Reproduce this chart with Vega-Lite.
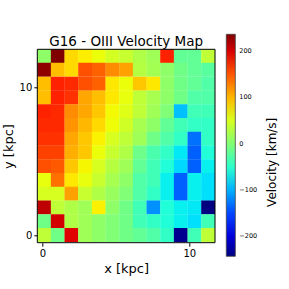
{
 "$schema": "https://vega.github.io/schema/vega-lite/v6.json",
 "width": 177.7, "height": 193.4,
 "autosize": "none",
 "padding": {"left": 37.3, "top": 49.3, "right": 74, "bottom": 46.3},
 "background": "white",
 "config": {"font": "DejaVu Sans", "view": {"stroke": null}},
 "title": {"text": "G16 - OIII Velocity Map", "fontSize": 13.5, "fontWeight": "normal", "anchor": "middle", "frame": "group", "offset": -14, "color": "black"},
 "layer": [
 {
 "data": {"values": [
{"x":0.12,"y":12.09,"v":8},{"x":1.05,"y":12.09,"v":236},{"x":1.98,"y":12.09,"v":83},{"x":2.91,"y":12.09,"v":72},{"x":3.84,"y":12.09,"v":62},{"x":4.77,"y":12.09,"v":48},{"x":5.7,"y":12.09,"v":41},{"x":6.63,"y":12.09,"v":27},{"x":7.56,"y":12.09,"v":18},{"x":8.49,"y":12.09,"v":176},{"x":9.42,"y":12.09,"v":-19},{"x":10.35,"y":12.09,"v":-19},{"x":11.28,"y":12.09,"v":36},
{"x":0.12,"y":11.16,"v":230},{"x":1.05,"y":11.16,"v":96},{"x":1.98,"y":11.16,"v":83},{"x":2.91,"y":11.16,"v":153},{"x":3.84,"y":11.16,"v":144},{"x":4.77,"y":11.16,"v":122},{"x":5.7,"y":11.16,"v":111},{"x":6.63,"y":11.16,"v":30},{"x":7.56,"y":11.16,"v":20},{"x":8.49,"y":11.16,"v":8},{"x":9.42,"y":11.16,"v":-10},{"x":10.35,"y":11.16,"v":-19},{"x":11.28,"y":11.16,"v":-24},
{"x":0.12,"y":10.23,"v":96},{"x":1.05,"y":10.23,"v":176},{"x":1.98,"y":10.23,"v":172},{"x":2.91,"y":10.23,"v":153},{"x":3.84,"y":10.23,"v":144},{"x":4.77,"y":10.23,"v":75},{"x":5.7,"y":10.23,"v":62},{"x":6.63,"y":10.23,"v":92},{"x":7.56,"y":10.23,"v":75},{"x":8.49,"y":10.23,"v":8},{"x":9.42,"y":10.23,"v":-10},{"x":10.35,"y":10.23,"v":-19},{"x":11.28,"y":10.23,"v":-29},
{"x":0.12,"y":9.3,"v":96},{"x":1.05,"y":9.3,"v":176},{"x":1.98,"y":9.3,"v":168},{"x":2.91,"y":9.3,"v":108},{"x":3.84,"y":9.3,"v":96},{"x":4.77,"y":9.3,"v":75},{"x":5.7,"y":9.3,"v":60},{"x":6.63,"y":9.3,"v":36},{"x":7.56,"y":9.3,"v":22},{"x":8.49,"y":9.3,"v":8},{"x":9.42,"y":9.3,"v":-10},{"x":10.35,"y":9.3,"v":-29},{"x":11.28,"y":9.3,"v":-29},
{"x":0.12,"y":8.37,"v":176},{"x":1.05,"y":8.37,"v":172},{"x":1.98,"y":8.37,"v":122},{"x":2.91,"y":8.37,"v":108},{"x":3.84,"y":8.37,"v":92},{"x":4.77,"y":8.37,"v":66},{"x":5.7,"y":8.37,"v":55},{"x":6.63,"y":8.37,"v":36},{"x":7.56,"y":8.37,"v":18},{"x":8.49,"y":8.37,"v":-1},{"x":9.42,"y":8.37,"v":-93},{"x":10.35,"y":8.37,"v":-38},{"x":11.28,"y":8.37,"v":-38},
{"x":0.12,"y":7.44,"v":172},{"x":1.05,"y":7.44,"v":172},{"x":1.98,"y":7.44,"v":118},{"x":2.91,"y":7.44,"v":100},{"x":3.84,"y":7.44,"v":83},{"x":4.77,"y":7.44,"v":64},{"x":5.7,"y":7.44,"v":46},{"x":6.63,"y":7.44,"v":22},{"x":7.56,"y":7.44,"v":8},{"x":8.49,"y":7.44,"v":-19},{"x":9.42,"y":7.44,"v":-38},{"x":10.35,"y":7.44,"v":-47},{"x":11.28,"y":7.44,"v":-47},
{"x":0.12,"y":6.51,"v":168},{"x":1.05,"y":6.51,"v":168},{"x":1.98,"y":6.51,"v":108},{"x":2.91,"y":6.51,"v":92},{"x":3.84,"y":6.51,"v":70},{"x":4.77,"y":6.51,"v":50},{"x":5.7,"y":6.51,"v":36},{"x":6.63,"y":6.51,"v":18},{"x":7.56,"y":6.51,"v":-10},{"x":8.49,"y":6.51,"v":-29},{"x":9.42,"y":6.51,"v":-47},{"x":10.35,"y":6.51,"v":-130},{"x":11.28,"y":6.51,"v":-47},
{"x":0.12,"y":5.58,"v":160},{"x":1.05,"y":5.58,"v":160},{"x":1.98,"y":5.58,"v":104},{"x":2.91,"y":5.58,"v":92},{"x":3.84,"y":5.58,"v":62},{"x":4.77,"y":5.58,"v":41},{"x":5.7,"y":5.58,"v":27},{"x":6.63,"y":5.58,"v":-12},{"x":7.56,"y":5.58,"v":-33},{"x":8.49,"y":5.58,"v":-47},{"x":9.42,"y":5.58,"v":-74},{"x":10.35,"y":5.58,"v":-138},{"x":11.28,"y":5.58,"v":-57},
{"x":0.12,"y":4.65,"v":153},{"x":1.05,"y":4.65,"v":148},{"x":1.98,"y":4.65,"v":92},{"x":2.91,"y":4.65,"v":68},{"x":3.84,"y":4.65,"v":50},{"x":4.77,"y":4.65,"v":31},{"x":5.7,"y":4.65,"v":18},{"x":6.63,"y":4.65,"v":-19},{"x":7.56,"y":4.65,"v":-38},{"x":8.49,"y":4.65,"v":-57},{"x":9.42,"y":4.65,"v":-81},{"x":10.35,"y":4.65,"v":-138},{"x":11.28,"y":4.65,"v":-70},
{"x":0.12,"y":3.72,"v":60},{"x":1.05,"y":3.72,"v":136},{"x":1.98,"y":3.72,"v":75},{"x":2.91,"y":3.72,"v":60},{"x":3.84,"y":3.72,"v":41},{"x":4.77,"y":3.72,"v":22},{"x":5.7,"y":3.72,"v":8},{"x":6.63,"y":3.72,"v":-29},{"x":7.56,"y":3.72,"v":-38},{"x":8.49,"y":3.72,"v":-70},{"x":9.42,"y":3.72,"v":-138},{"x":10.35,"y":3.72,"v":-70},{"x":11.28,"y":3.72,"v":-78},
{"x":0.12,"y":2.79,"v":50},{"x":1.05,"y":2.79,"v":50},{"x":1.98,"y":2.79,"v":111},{"x":2.91,"y":2.79,"v":41},{"x":3.84,"y":2.79,"v":27},{"x":4.77,"y":2.79,"v":13},{"x":5.7,"y":2.79,"v":-1},{"x":6.63,"y":2.79,"v":-29},{"x":7.56,"y":2.79,"v":-47},{"x":8.49,"y":2.79,"v":-70},{"x":9.42,"y":2.79,"v":-138},{"x":10.35,"y":2.79,"v":-70},{"x":11.28,"y":2.79,"v":-78},
{"x":0.12,"y":1.86,"v":210},{"x":1.05,"y":1.86,"v":36},{"x":1.98,"y":1.86,"v":27},{"x":2.91,"y":1.86,"v":18},{"x":3.84,"y":1.86,"v":71},{"x":4.77,"y":1.86,"v":8},{"x":5.7,"y":1.86,"v":-10},{"x":6.63,"y":1.86,"v":-38},{"x":7.56,"y":1.86,"v":-115},{"x":8.49,"y":1.86,"v":-57},{"x":9.42,"y":1.86,"v":-70},{"x":10.35,"y":1.86,"v":-74},{"x":11.28,"y":1.86,"v":-243},
{"x":0.12,"y":0.93,"v":-10},{"x":1.05,"y":0.93,"v":202},{"x":1.98,"y":0.93,"v":27},{"x":2.91,"y":0.93,"v":18},{"x":3.84,"y":0.93,"v":8},{"x":4.77,"y":0.93,"v":-1},{"x":5.7,"y":0.93,"v":-10},{"x":6.63,"y":0.93,"v":-38},{"x":7.56,"y":0.93,"v":-47},{"x":8.49,"y":0.93,"v":-57},{"x":9.42,"y":0.93,"v":-70},{"x":10.35,"y":0.93,"v":-78},{"x":11.28,"y":0.93,"v":-38},
{"x":0.12,"y":0,"v":36},{"x":1.05,"y":0,"v":-10},{"x":1.98,"y":0,"v":196},{"x":2.91,"y":0,"v":18},{"x":3.84,"y":0,"v":8},{"x":4.77,"y":0,"v":-1},{"x":5.7,"y":0,"v":-10},{"x":6.63,"y":0,"v":-19},{"x":7.56,"y":0,"v":-29},{"x":8.49,"y":0,"v":-47},{"x":9.42,"y":0,"v":-236},{"x":10.35,"y":0,"v":-38},{"x":11.28,"y":0,"v":36}
 ]},
 "mark": {"type": "rect", "width": 13.9, "height": 14, "clip": true},
 "encoding": {
  "x": {"field": "x", "type": "quantitative",
        "scale": {"domain": [-0.345, 11.745], "nice": false, "zero": false},
        "axis": {"values": [0, 10], "title": "x [kpc]", "grid": false, "domain": false, "tickColor": "black", "tickSize": 3.5, "labelColor": "black", "labelFontSize": 10, "titleFontSize": 13, "titleFontWeight": "normal", "titleColor": "black", "labelPadding": 2, "titlePadding": 4}},
  "y": {"field": "y", "type": "quantitative",
        "scale": {"domain": [-0.52, 12.55], "nice": false, "zero": false},
        "axis": {"values": [0, 10], "title": "y [kpc]", "grid": false, "domain": false, "tickColor": "black", "tickSize": 3.5, "labelColor": "black", "labelFontSize": 10, "titleFontSize": 13, "titleFontWeight": "normal", "titleColor": "black", "labelPadding": 2, "titlePadding": 4}},
  "color": {"field": "v", "type": "quantitative",
        "scale": {"domain": [-243, -183.1, -80.1, -75.4, -63.4, 63.6, 68.4, 73.1, 183.3, 192.9, 236],
                  "range": ["#000080", "#0000ff", "#00dbff", "#00e5f7", "#15ffe2", "#eeff08", "#f7f500", "#ffec00", "#ff1300", "#e80000", "#800000"],
                  "interpolate": "rgb"},
        "legend": {"orient": "none", "legendX": 189, "legendY": -15, "direction": "vertical", "padding": 0,
                   "gradientLength": 222, "gradientThickness": 9, "values": [-200, -100, 0, 100, 200],
                   "labelFontSize": 6.5, "labelColor": "black", "labelOffset": 4,
                   "title": "Velocity [km/s]", "titleFontSize": 12, "titleFontWeight": "normal", "titleColor": "black",
                   "titleOrient": "right", "titleAnchor": "middle", "titleAlign": "center", "titleBaseline": "top", "titlePadding": 10,
                   "gradientStrokeColor": "#444", "gradientStrokeWidth": 0.8,
                   "encode": {"title": {"update": {"angle": {"value": -90}, "dx": {"value": -17}}}}}}
 }
 },
 {
  "data": {"values": [{"frame": 1}]},
  "mark": {"type": "rect", "fill": null, "stroke": "black", "strokeWidth": 1},
  "encoding": {}
 }
 ]
}
